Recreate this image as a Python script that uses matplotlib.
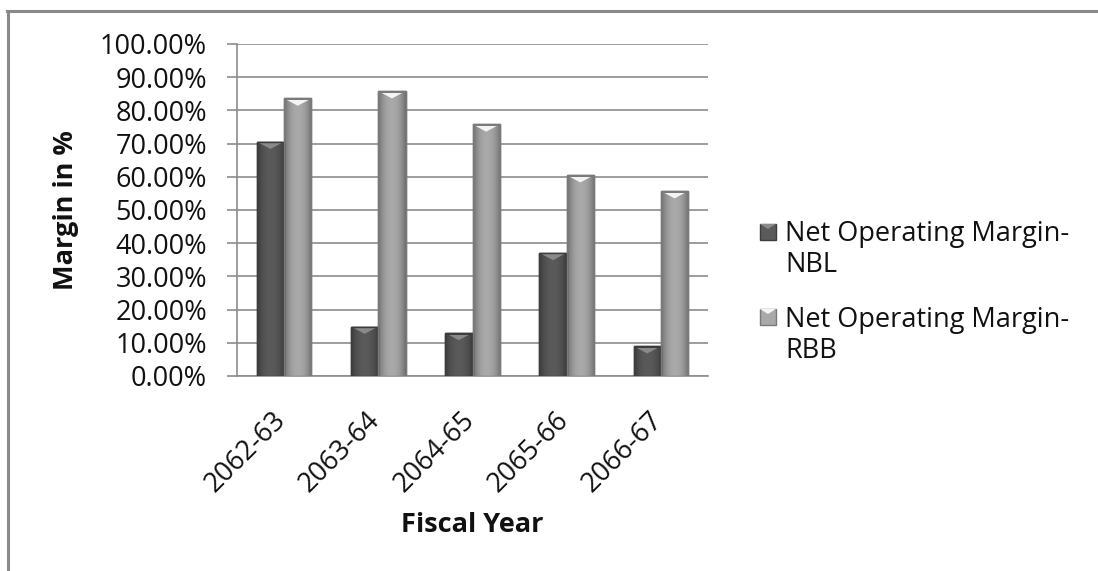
import numpy as np
import matplotlib
matplotlib.use("Agg")
import matplotlib.pyplot as plt
from matplotlib.patches import Polygon, Rectangle
from matplotlib.lines import Line2D
from matplotlib.ticker import FuncFormatter, MultipleLocator

plt.rcParams['font.family'] = ['Open Sans', 'DejaVu Sans']

years = ["2062-63", "2063-64", "2064-65", "2065-66", "2066-67"]
nbl = [70.6, 14.9, 13.0, 37.1, 9.0]
rbb = [83.6, 85.8, 75.8, 60.5, 55.7]
series_names = [["Net Operating Margin-", "NBL"], ["Net Operating Margin-", "RBB"]]
series_colors = [('#5a5a5a', '#3c3c3c', '#8a8a8a'), ('#a9a9a9', '#7a7a7a', '#f4f4f4')]

W, H = 1098, 571
fig = plt.figure(figsize=(W / 100, H / 100), dpi=100)
ax = fig.add_axes([237 / W, 1 - 376 / H, (708 - 237) / W, (376 - 44) / H])

x = np.arange(len(years))
bw = 0.29
text_col = '#111111'
grid_col = '#8c8c8c'
fs = 19.5


def shaded_bar(xc, val, base, edge, tri_col):
    x0, x1 = xc - bw / 2, xc + bw / 2
    bars = ax.bar(xc, val, width=bw, color=base, edgecolor=edge, linewidth=1.0, zorder=3)
    patch = bars[0]
    # horizontal shading across the bar face
    t = np.linspace(0, 1, 64)
    prof = 1 - 0.35 * (np.abs(t - 0.5) * 2) ** 2.2
    rgb = np.array(matplotlib.colors.to_rgb(base))
    img = np.clip(rgb[None, None, :] * prof[None, :, None], 0, 1)
    im = ax.imshow(img, extent=[x0, x1, 0, val], aspect='auto', zorder=3.5,
                   interpolation='bilinear')
    im.set_clip_path(patch)
    # bevelled top cap
    h = 2.2
    ax.add_patch(Polygon([[x0, val], [x1, val], [xc, val - h]], closed=True,
                         facecolor=tri_col, edgecolor='none', zorder=4))
    ax.add_patch(Polygon([[x0, val], [x1, val], [x1, val - 0.5], [x0, val - 0.5]],
                         closed=True, facecolor=edge, edgecolor='none', zorder=4))
    ax.bar(xc, val, width=bw, color='none', edgecolor=edge, linewidth=1.0, zorder=5)


for i in range(len(years)):
    shaded_bar(x[i] - bw / 2, nbl[i], *series_colors[0])
    shaded_bar(x[i] + bw / 2, rbb[i], *series_colors[1])

ax.set_xlim(-0.5, len(years) - 0.5)
ax.set_ylim(0, 100)
ax.yaxis.set_major_locator(MultipleLocator(10))
ax.yaxis.set_major_formatter(FuncFormatter(lambda v, p: f"{v:.2f}%"))
ax.grid(axis='y', color=grid_col, linewidth=1.2, zorder=0)
ax.set_axisbelow(True)

for s in ['top', 'right']:
    ax.spines[s].set_visible(False)
for s in ['left', 'bottom']:
    ax.spines[s].set_color(grid_col)
    ax.spines[s].set_linewidth(1.2)

ax.tick_params(axis='y', length=7.5, width=1.2, color=grid_col, labelsize=fs,
               labelcolor=text_col, pad=14)
ax.tick_params(axis='x', length=0, labelsize=fs, labelcolor=text_col, pad=22)
ax.set_xticks(x + 0.08)
ax.set_xticklabels(years, rotation=45, ha='right', va='top', rotation_mode='default')

ax.set_ylabel("Margin in %", fontsize=fs, fontweight='bold', color=text_col, labelpad=15)
ax.set_xlabel("Fiscal Year", fontsize=fs, fontweight='bold', color=text_col, labelpad=10)

# legend: square key aligned with the first line of each two-line entry
px = lambda xp, yp: (xp / W, 1 - yp / H)
entry_tops = [232, 317]
line_gap = 31
sq = 16
for (lines, (base, edge, tri)), yc in zip(zip(series_names, series_colors), entry_tops):
    x0, y0 = px(760, yc + sq / 2)
    fig.add_artist(Rectangle((x0, y0), sq / W, sq / H, transform=fig.transFigure,
                             facecolor=base, edgecolor=edge, linewidth=1.0))
    tx0, ty0 = px(760, yc - sq / 2)
    tx1, _ = px(760 + sq, yc)
    _, ty1 = px(760, yc - sq / 2 + 5)
    fig.add_artist(Polygon([[tx0, ty0], [tx1, ty0], [(tx0 + tx1) / 2, ty1]],
                           closed=True, transform=fig.transFigure,
                           facecolor=tri, edgecolor='none'))
    for k, line in enumerate(lines):
        bx, by = px(785, yc + 9.5 + k * line_gap)
        fig.text(bx, by, line, fontsize=fs, color=text_col, ha='left', va='baseline')

# chart frame
fig.add_artist(Line2D([7 / W, 1], [1 - 10.5 / H, 1 - 10.5 / H], color='#8a8a8a', lw=2.2,
                      transform=fig.transFigure))
fig.add_artist(Line2D([7.5 / W, 7.5 / W], [0, 1 - 10.5 / H], color='#8a8a8a', lw=2.2,
                      transform=fig.transFigure))

fig.savefig("out.png", dpi=100, facecolor='white')
